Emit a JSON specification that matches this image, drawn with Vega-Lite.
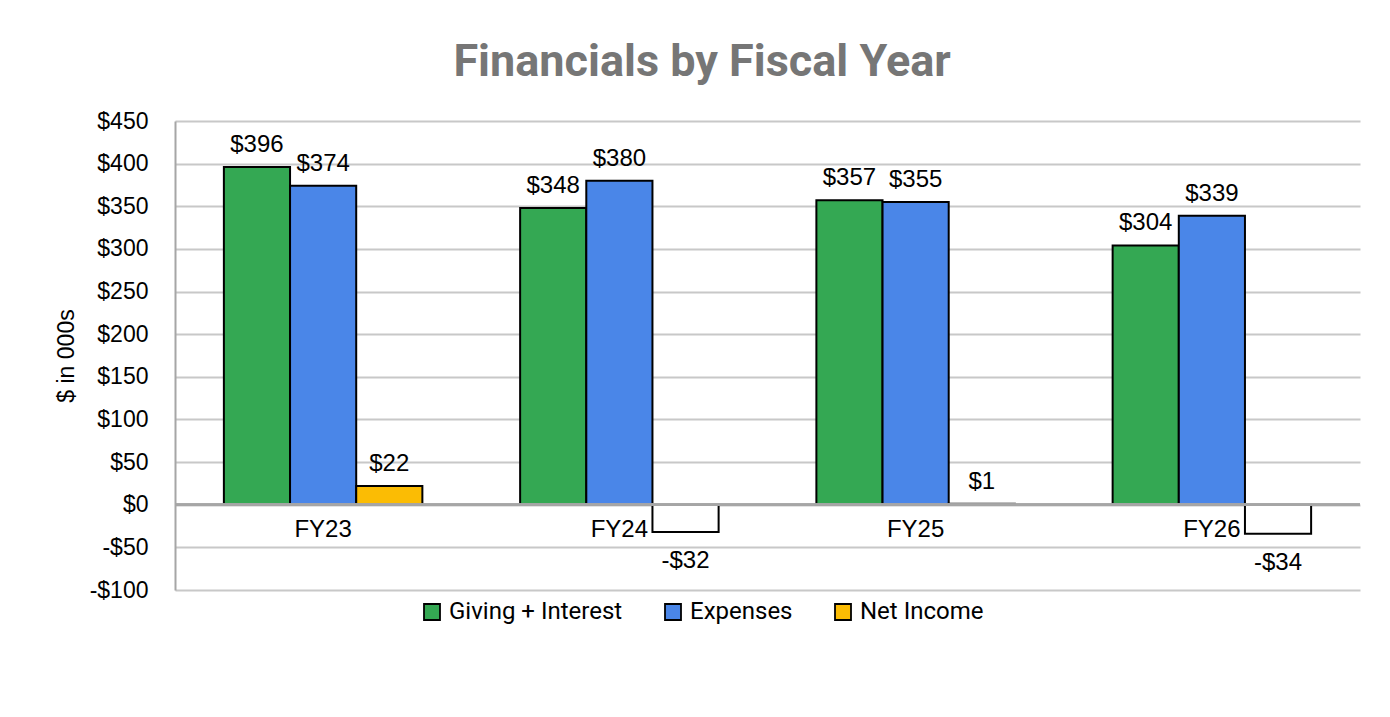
{
  "$schema": "https://vega.github.io/schema/vega-lite/v6.json",
  "width": 1185,
  "height": 469,
  "padding": {"left": 55, "top": 40, "right": 0, "bottom": 0},
  "background": "white",
  "title": {"text": "Financials by Fiscal Year", "fontSize": 45, "font": "Roboto", "fontWeight": "bold", "color": "#767676", "frame": "bounds", "anchor": "middle", "offset": 25, "dx": -6},
  "config": {
    "view": {"stroke": null},
    "locale": {"number": {"decimal": ".", "thousands": ",", "grouping": [3], "currency": ["$", ""], "minus": "-"}}
  },
  "data": {"values": [
    {"fy": "FY23", "series": "Giving + Interest", "value": 396},
    {"fy": "FY23", "series": "Expenses", "value": 374},
    {"fy": "FY23", "series": "Net Income", "value": 22},
    {"fy": "FY24", "series": "Giving + Interest", "value": 348},
    {"fy": "FY24", "series": "Expenses", "value": 380},
    {"fy": "FY24", "series": "Net Income", "value": -32},
    {"fy": "FY25", "series": "Giving + Interest", "value": 357},
    {"fy": "FY25", "series": "Expenses", "value": 355},
    {"fy": "FY25", "series": "Net Income", "value": 1},
    {"fy": "FY26", "series": "Giving + Interest", "value": 304},
    {"fy": "FY26", "series": "Expenses", "value": 339},
    {"fy": "FY26", "series": "Net Income", "value": -34}
  ]},
  "layer": [
    {
      "mark": {"type": "bar", "stroke": "black", "strokeWidth": 2},
      "encoding": {
        "x": {"field": "fy", "type": "nominal", "axis": null, "sort": null, "scale": {"paddingInner": 0.33, "paddingOuter": 0.165}},
        "xOffset": {"field": "series", "type": "nominal", "sort": ["Giving + Interest", "Expenses", "Net Income"]},
        "y": {"field": "value", "type": "quantitative", "scale": {"domain": [-100, 450], "nice": false},
          "axis": {"title": "$ in 000s", "format": "$d", "values": [-100, -50, 0, 50, 100, 150, 200, 250, 300, 350, 400, 450],
            "grid": true, "gridColor": "#c8c8c8", "gridWidth": 2, "domain": true, "domainColor": "#a6a6a6", "domainWidth": 2,
            "ticks": false, "labelFont": "Liberation Sans", "labelFontSize": 23, "labelColor": "black", "labelPadding": 27,
            "titleFont": "Liberation Sans", "titleFontSize": 23, "titleFontWeight": "normal", "titleColor": "black", "titlePadding": 11}},
        "color": {
          "condition": {"test": "datum.value < 0", "value": "white"},
          "field": "series", "type": "nominal",
          "scale": {"domain": ["Giving + Interest", "Expenses", "Net Income"], "range": ["#34A853", "#4A86E8", "#FBBC04"]},
          "legend": {"orient": "none", "legendX": 245, "legendY": 479, "direction": "horizontal", "title": null, "symbolType": "square", "symbolSize": 256,
            "symbolStrokeColor": "black", "symbolStrokeWidth": 1.8, "symbolOpacity": 1, "labelFont": "Roboto", "labelFontSize": 24,
            "labelColor": "black", "labelLimit": 0, "columnPadding": 38, "labelOffset": 5}
        }
      }
    },
    {
      "mark": {"type": "rule", "color": "#a6a6a6", "strokeWidth": 2},
      "encoding": {"y": {"datum": 0, "type": "quantitative"}}
    },
    {
      "transform": [{"filter": "datum.value >= 0"}],
      "mark": {"type": "text", "font": "Liberation Sans", "fontSize": 24, "color": "black", "baseline": "alphabetic", "dy": -15},
      "encoding": {
        "x": {"field": "fy", "type": "nominal", "sort": null},
        "xOffset": {"field": "series", "type": "nominal", "sort": ["Giving + Interest", "Expenses", "Net Income"]},
        "y": {"field": "value", "type": "quantitative"},
        "text": {"field": "value", "type": "quantitative", "format": "$d"}
      }
    },
    {
      "transform": [{"filter": "datum.value < 0"}],
      "mark": {"type": "text", "font": "Liberation Sans", "fontSize": 24, "color": "black", "baseline": "middle", "dy": 29},
      "encoding": {
        "x": {"field": "fy", "type": "nominal", "sort": null},
        "xOffset": {"field": "series", "type": "nominal", "sort": ["Giving + Interest", "Expenses", "Net Income"]},
        "y": {"field": "value", "type": "quantitative"},
        "text": {"field": "value", "type": "quantitative", "format": "$d"}
      }
    },
    {
      "transform": [{"filter": "datum.series === 'Giving + Interest'"}],
      "mark": {"type": "text", "font": "Liberation Sans", "fontSize": 24, "color": "black", "baseline": "middle", "dy": 25},
      "encoding": {
        "x": {"field": "fy", "type": "nominal", "sort": null},
        "y": {"datum": 0, "type": "quantitative"},
        "text": {"field": "fy", "type": "nominal"}
      }
    }
  ]
}
